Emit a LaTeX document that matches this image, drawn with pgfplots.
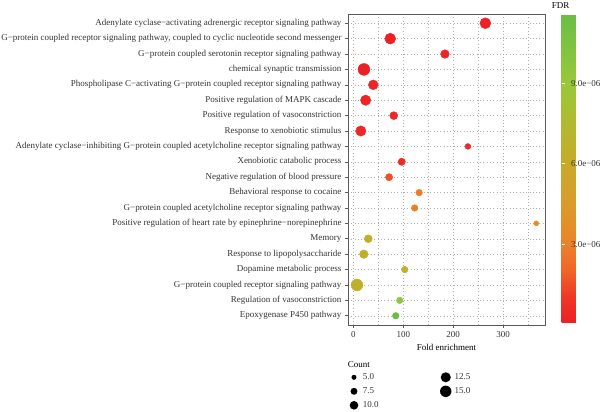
\documentclass[border=0pt]{standalone}
\usepackage{fontspec}
\setmainfont{Liberation Serif}
\usepackage{pgfplots}
\usepackage{pgfplotstable}
\pgfplotsset{compat=1.18}

\definecolor{framegray}{gray}{0.35}
\definecolor{gridgray}{gray}{0.68}
\definecolor{textgray}{gray}{0.2}
\newcommand\lbl{\fontsize{9}{10.5}\selectfont}

% GO terms: row index, fold enrichment, gene count, FDR (x 1e-6)
\pgfplotstableread{
idx fe    count fdr
1   264.4 14    0.05
2   73.7  14    0.10
3   183.4 10    0.20
4   21.0  16    0.08
5   39.7  12    0.30
6   24.4  13    0.25
7   80.7  9     0.40
8   14.7  13    0.35
9   229.4 6     0.45
10  96.7  8     0.55
11  71.4  8     1.60
12  131.7 7     2.80
13  122.7 7     2.95
14  366.4 5     3.60
15  29.7  9     6.50
16  20.7  10    6.50
17  102.7 7     6.70
18  7.0   16    6.60
19  92.7  7     9.40
20  84.7  7     11.60
}\terms

% size key for the Count legend
\pgfplotsset{countkey/.style={legend image code/.code={%
  \path[draw=none, fill=none] (-6pt,-6.5pt) rectangle (6pt,6.5pt);
  \fill[black, draw=none] (0pt,0pt) circle[radius=#1];}}}

\begin{document}
\begin{tikzpicture}
\useasboundingbox (0,0) rectangle (600pt,412pt);
\begin{axis}[
  at={(348pt,87pt)}, anchor=south west,
  scale only axis, width=197pt, height=311pt,
  xmin=-11, xmax=384, ymin=0.4, ymax=20.6, y dir=reverse,
  xtick={0,100,200,300}, minor xtick={50,150,250,350},
  ytick={1,...,20},
  yticklabels={
    Adenylate cyclase−activating adrenergic receptor signaling pathway,
    {G−protein coupled receptor signaling pathway, coupled to cyclic nucleotide second messenger},
    G−protein coupled serotonin receptor signaling pathway,
    chemical synaptic transmission,
    Phospholipase C−activating G−protein coupled receptor signaling pathway,
    Positive regulation of MAPK cascade,
    Positive regulation of vasoconstriction,
    Response to xenobiotic stimulus,
    Adenylate cyclase−inhibiting G−protein coupled acetylcholine receptor signaling pathway,
    Xenobiotic catabolic process,
    Negative regulation of blood pressure,
    Behavioral response to cocaine,
    G−protein coupled acetylcholine receptor signaling pathway,
    Positive regulation of heart rate by epinephrine−norepinephrine,
    Memory,
    Response to lipopolysaccharide,
    Dopamine metabolic process,
    G−protein coupled receptor signaling pathway,
    Regulation of vasoconstriction,
    Epoxygenase P450 pathway},
  xtick pos=bottom, ytick pos=left,
  tick align=outside, major tick length=3pt, minor tick length=0pt,
  tick style={framegray, line width=0.6pt},
  grid=both,
  major grid style={gridgray, line width=0.5pt, dash pattern=on 0.7pt off 2.6pt},
  minor grid style={gridgray, line width=0.5pt, dash pattern=on 0.7pt off 2.6pt},
  axis line style={framegray, line width=0.8pt},
  tick label style={font=\lbl, text=textgray},
  /pgf/number format/assume math mode=true,
  xlabel={Fold enrichment},
  xlabel style={font=\lbl, text=black, at={(axis description cs:0.5,0)}, anchor=base, yshift=-25pt},
  colormap={fdr}{
    rgb255(0.5pt)=(236,32,38)
    rgb255(10pt)=(238,55,38)
    rgb255(20pt)=(240,100,40)
    rgb255(30pt)=(236,130,42)
    rgb255(45pt)=(218,155,42)
    rgb255(60pt)=(200,170,42)
    rgb255(75pt)=(178,185,48)
    rgb255(90pt)=(153,200,58)
    rgb255(103pt)=(128,196,64)
    rgb255(116pt)=(106,189,69)},
  point meta min=0.05, point meta max=11.6,
  colorbar,
  colorbar style={
    at={(parent axis.north east)}, anchor=north west, xshift=8pt,
    scale only axis, width=15pt, height=309pt,
    ytick={3,6,9}, yticklabels={3.0e−06,6.0e−06,9.0e−06},
    ytick pos=both, yticklabel pos=right,
    tick align=inside, major tick length=3pt,
    major tick style={white, line width=1pt},
    axis line style={draw=none},
    axis on top,
    yticklabel style={font=\lbl, text=textgray, xshift=-9pt},
  },
  legend style={
    at={(axis description cs:0,-0.1473)}, anchor=north west,
    draw=none, fill=none, inner sep=0pt, outer sep=0pt,
    font=\lbl, text=textgray, row sep=1pt,
    /tikz/every odd column/.append style={column sep=2pt},
    /tikz/every even column/.append style={column sep=60pt},
    nodes={inner sep=1pt},
  },
  legend cell align=left,
  legend columns=3, transpose legend,
]
\addplot[scatter, only marks, mark=*, forget plot, point meta=explicit,
  scatter/use mapped color={draw=mapped color, fill=mapped color},
  visualization depends on={\thisrow{count} \as \cnt},
  scatter/@pre marker code/.append style={/tikz/mark size={1.955*sqrt(\cnt)-1.87}}]
  table[x=fe, y=idx, meta=fdr] {\terms};

\addlegendimage{countkey=2.5pt}  \addlegendentry{5.0}
\addlegendimage{countkey=3.48pt} \addlegendentry{7.5}
\addlegendimage{countkey=4.31pt} \addlegendentry{10.0}
\addlegendimage{countkey=5.04pt} \addlegendentry{12.5}
\addlegendimage{countkey=5.7pt}  \addlegendentry{15.0}
\end{axis}
\node[font=\lbl, anchor=base west, inner sep=0pt, text=black] at (551.7pt,403.7pt) {FDR};
\node[font=\lbl, anchor=base west, inner sep=0pt, text=black] at (347.7pt,44.7pt) {Count};
\end{tikzpicture}
\end{document}
